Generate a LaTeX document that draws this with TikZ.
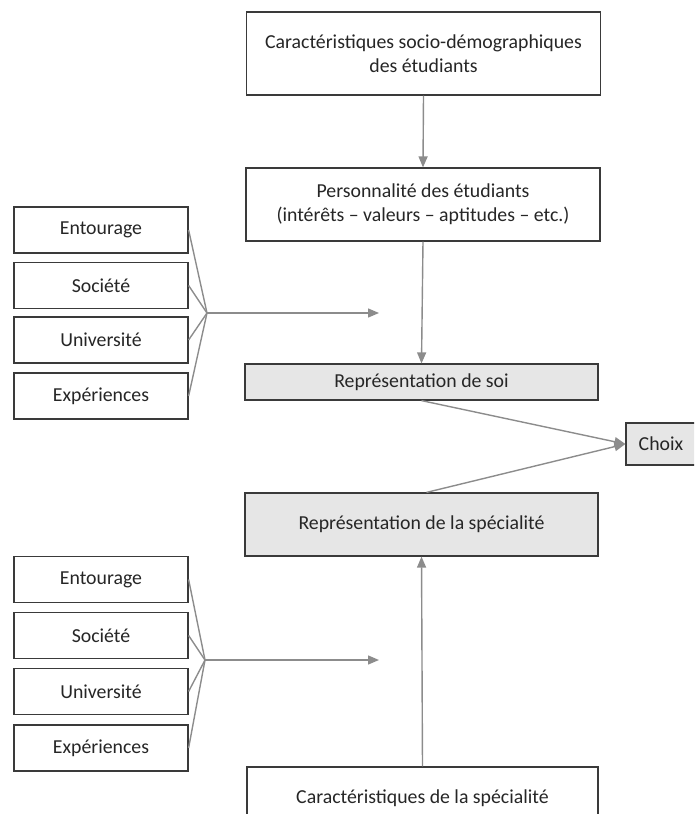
\documentclass[tikz,border=0pt]{standalone}
\usepackage{fontspec}
\setmainfont{Carlito}
\usetikzlibrary{arrows.meta}
\definecolor{boxline}{HTML}{3A3A3A}
\definecolor{boxfill}{HTML}{E6E6E6}
\definecolor{txt}{HTML}{262626}
\definecolor{link}{HTML}{8C8C8C}
\begin{document}
\begin{tikzpicture}[x=1pt,y=-1pt,
  every node/.style={font=\fontsize{19.8}{24}\selectfont, text=txt, align=center, inner sep=0pt},
  plainbox/.style={draw=boxline, line width=1.2pt, fill=white},
  greybox/.style={draw=boxline, line width=1.2pt, fill=boxfill},
  factor/.style={plainbox, minimum width=174, minimum height=46},
  link/.style={draw=link, line width=1.4pt},
  flow/.style={link, -{Triangle[length=11pt,width=9pt]}}]
\useasboundingbox (0,0) rectangle (694,814);
\clip (0,0) rectangle (694,814);

% main column
\node[plainbox, minimum width=354, minimum height=83] (socio) at (423.5,53.5)
  {Caractéristiques socio-démographiques\\des étudiants};
\node[plainbox, minimum width=354, minimum height=73] (perso) at (423,204.5)
  {Personnalité des étudiants\\(intérêts -- valeurs -- aptitudes -- etc.)};
\node[greybox, minimum width=353, minimum height=36] (soi) at (421.5,382)
  {Représentation de soi};
\node[greybox, minimum width=70, minimum height=42] (choix) at (661,444)
  {Choix};
\node[greybox, minimum width=353, minimum height=63] (spe) at (421.5,524.5)
  {Représentation de la spécialité};
\node[plainbox, minimum width=351, minimum height=62] (carspe) at (422.5,798)
  {Caractéristiques de la spécialité};

% upper group of influences
\node[factor] (e1) at (101,230) {Entourage};
\node[factor] (s1) at (101,285.5) {Société};
\node[factor] (u1) at (101,340) {Université};
\node[factor] (x1) at (101,396) {Expériences};
\coordinate (j1) at (207,313);
\coordinate (t1) at (379,313);

% lower group of influences
\node[factor] (e2) at (101,579.5) {Entourage};
\node[factor] (s2) at (101,635.5) {Société};
\node[factor] (u2) at (101,691.5) {Université};
\node[factor] (x2) at (101,748) {Expériences};
\coordinate (j2) at (205,660);
\coordinate (t2) at (379,660);

% connectors
\draw[flow] (socio.south) -- (perso.north);
\draw[flow] (perso.south) -- (soi.north);
\draw[flow] (carspe.north) -- (spe.south);
\draw[flow] (soi.south) -- (choix.west);
\draw[flow] ([xshift=5pt]spe.north) -- (choix.west);

\foreach \b in {e1,s1,u1,x1} \draw[link] (\b.east) -- (j1);
\draw[flow] (j1) -- (t1);
\foreach \b in {e2,s2,u2,x2} \draw[link] (\b.east) -- (j2);
\draw[flow] (j2) -- (t2);
\end{tikzpicture}
\end{document}
